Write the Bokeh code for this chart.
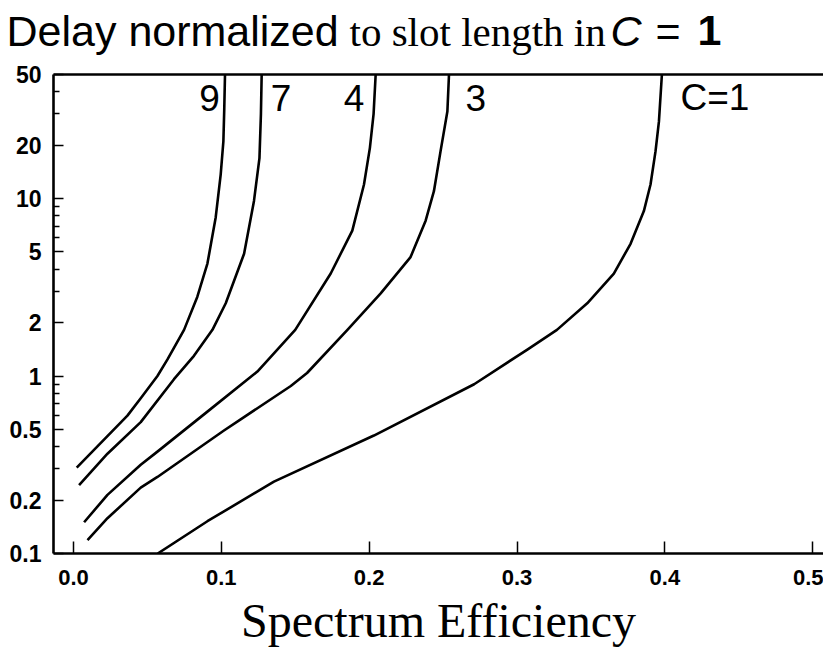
from bokeh.plotting import figure
from bokeh.models import (FixedTicker, LinearAxis, Label, Range1d,
                          CustomJSTickFormatter, NumeralTickFormatter)
from bokeh.core.properties import value
from bokeh.embed import file_html
from bokeh.resources import INLINE

# ---- data ----
c9_x = [0.0022, 0.0365, 0.0455, 0.0568, 0.0636, 0.0748, 0.0838, 0.0906, 0.0962, 0.0996, 0.1014, 0.1020, 0.1025]
c9_y = [0.305, 0.598, 0.75, 1.0, 1.24, 1.82, 2.80, 4.30, 7.83, 13.7, 21.0, 32.0, 50.0]

c7_x = [0.0038, 0.023, 0.0455, 0.068, 0.0815, 0.094, 0.103, 0.1154, 0.1221, 0.1258, 0.1268, 0.1273]
c7_y = [0.243, 0.365, 0.55, 0.96, 1.30, 1.82, 2.57, 4.89, 9.7, 16.9, 30.0, 50.0]

c4_x = [0.0072, 0.023, 0.0455, 0.0568, 0.0906, 0.1244, 0.150, 0.174, 0.1886, 0.1965, 0.2005, 0.2030, 0.2044]
c4_y = [0.150, 0.214, 0.316, 0.375, 0.63, 1.06, 1.82, 3.78, 6.6, 12.0, 19.3, 30.0, 50.0]

c3_x = [0.0095, 0.023, 0.0455, 0.0568, 0.1018, 0.1131, 0.147, 0.158, 0.1853, 0.2078, 0.228, 0.2382, 0.2438, 0.2483, 0.2529, 0.2540]
c3_y = [0.119, 0.158, 0.235, 0.27, 0.493, 0.57, 0.879, 1.04, 1.82, 2.92, 4.68, 7.5, 11.0, 18.5, 30.9, 50.0]

c1_x = [0.057, 0.0906, 0.1356, 0.2032, 0.271, 0.307, 0.327, 0.3475, 0.3655, 0.3768, 0.3858, 0.3903, 0.3937, 0.396, 0.398]
c1_y = [0.100, 0.152, 0.254, 0.462, 0.899, 1.41, 1.82, 2.57, 3.78, 5.56, 8.5, 12.0, 18.5, 27.2, 50.0]

curves = [(c9_x, c9_y), (c7_x, c7_y), (c4_x, c4_y), (c3_x, c3_y), (c1_x, c1_y)]
curve_labels = ["9", "7", "4", "3", "C=1"]
label_x = [0.0851, 0.1334, 0.1828, 0.2652, 0.4106]
label_y = 37.0

x_ticks = [0.0, 0.1, 0.2, 0.3, 0.4, 0.5]
y_ticks = [0.1, 0.2, 0.5, 1, 2, 5, 10, 20, 50]
y_minor = [0.3, 0.4, 0.6, 0.7, 0.8, 0.9, 3, 4, 6, 7, 8, 9, 30, 40]

title_parts = ["Delay normalized", "to slot length in", "C", "=", "1"]

SANS = "Liberation Sans"
SERIF = "Liberation Serif"
W = 823
TITLE_H = 62

# ---- title strip (mixed fonts), its own root so it is not frame-aligned ----
t = figure(width=W, height=TITLE_H, x_range=Range1d(0, W), y_range=Range1d(0, TITLE_H),
           x_axis_type=None, y_axis_type=None, output_backend="svg",
           toolbar_location=None, min_border=0)
t.outline_line_color = None
t.grid.visible = False
title_style = [  # (x, y, font, size, style)
    (6, 32, SANS, "43px", "normal"),
    (349, 31, SERIF, "41px", "normal"),
    (610, 32, SANS, "43px", "italic"),
    (655, 32, SANS, "43px", "normal"),
    (697, 32, SANS, "43px", "bold"),
]
for txt, (tx, ty, fnt, sz, sty) in zip(title_parts, title_style):
    t.text(x=[tx], y=[ty], text=[txt], text_font=value(fnt), text_font_size=sz,
           text_font_style=sty, text_baseline="middle", text_align="left",
           text_color="black")

# ---- main chart ----
p = figure(width=W, height=590, y_axis_type="log",
           x_range=Range1d(-0.0135, 0.5073), y_range=Range1d(0.1, 50),
           output_backend="svg", toolbar_location=None,
           min_border_left=53, min_border_right=0,
           min_border_top=12, min_border_bottom=99)
p.outline_line_color = None
p.grid.visible = False

for xs, ys in curves:
    p.line(xs, ys, line_color="black", line_width=2.6, line_join="round")

xa = p.xaxis[0]
xa.ticker = FixedTicker(ticks=x_ticks, minor_ticks=[])
xa.formatter = NumeralTickFormatter(format="0.0")
xa.major_tick_in = 12
xa.major_tick_out = 0
xa.minor_tick_line_color = None
xa.axis_line_width = 2.6
xa.major_tick_line_width = 1.5
xa.major_label_standoff = 16
xa.major_label_text_font = SANS
xa.major_label_text_font_style = "bold"
xa.major_label_text_font_size = "22px"
xa.major_label_text_color = "black"
xa.axis_label = "Spectrum Efficiency"
xa.axis_label_text_font = SERIF
xa.axis_label_text_font_style = "normal"
xa.axis_label_text_font_size = "48px"
xa.axis_label_text_color = "black"
xa.axis_label_standoff = 6

ya = p.yaxis[0]
ya.ticker = FixedTicker(ticks=y_ticks, minor_ticks=y_minor)
ya.formatter = CustomJSTickFormatter(code="return tick.toString()")
ya.major_tick_in = 10
ya.major_tick_out = 0
ya.minor_tick_in = 6
ya.minor_tick_out = 0
ya.axis_line_width = 2.6
ya.major_tick_line_width = 1.5
ya.minor_tick_line_width = 1.5
ya.major_label_standoff = 12
ya.major_label_text_font = SANS
ya.major_label_text_font_style = "bold"
ya.major_label_text_font_size = "23px"
ya.major_label_text_color = "black"

top = LinearAxis(ticker=FixedTicker(ticks=[]), major_tick_in=0, major_tick_out=0,
                 minor_tick_in=0, minor_tick_out=0, major_label_standoff=0,
                 axis_line_width=2.6)
p.add_layout(top, "above")

for txt, lx in zip(curve_labels, label_x):
    p.add_layout(Label(x=lx, y=label_y, text=txt, text_font=SANS,
                       text_font_size="37px", text_align="left",
                       text_baseline="middle", text_color="black"))

open("out.html", "w").write(file_html([t, p], INLINE))
